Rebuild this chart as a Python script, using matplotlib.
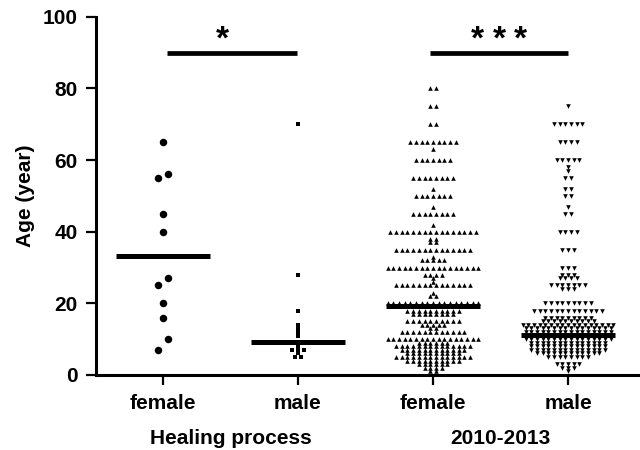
import numpy as np
import matplotlib.pyplot as plt

plt.rcParams['font.family'] = ['Liberation Sans', 'DejaVu Sans']
plt.rcParams['font.weight'] = 'bold'
plt.rcParams['axes.labelweight'] = 'bold'
plt.rcParams['font.size'] = 15

categories = ['female', 'male', 'female', 'male']
group_names = ['Healing process', '2010-2013']

heal_female = [65, 56, 55, 45, 40, 27, 25, 20, 16, 10, 7]
heal_male = [70, 28, 18, 14, 13, 12, 11, 9, 8, 7, 7, 7, 6, 5, 5]

# 2010-2013 cohorts: age (year) and how many patients sit on that row
f13_ages = [80, 75, 70, 65, 63, 60, 55, 52, 50, 47, 45, 42, 40, 38, 37, 35, 33, 32,
            30, 28, 27, 26, 25, 23, 22, 20, 18, 17, 15, 14, 13, 12, 10, 9, 8, 7,
            6, 5, 4, 3, 2, 1]
f13_counts = [2, 2, 2, 9, 1, 7, 8, 1, 7, 1, 8, 1, 16, 2, 2, 14, 1, 5,
              17, 4, 1, 1, 14, 1, 2, 17, 10, 8, 10, 5, 2, 12, 17, 6, 14, 12,
              10, 14, 10, 6, 4, 2]
m13_ages = [75, 70, 65, 60, 58, 57, 55, 52, 50, 47, 45, 40, 35, 30, 28, 27, 25, 24,
            20, 18, 16, 15, 14, 13, 12, 11, 10, 9, 8, 7, 6, 5, 3, 2, 1]
m13_counts = [1, 6, 4, 5, 1, 1, 2, 2, 2, 1, 2, 4, 3, 3, 3, 4, 7, 3,
              9, 13, 9, 10, 17, 16, 16, 16, 16, 14, 14, 14, 12, 8, 5, 3, 1]

means = [33.3, 9.2, 19.2, 11.2]
n_stars = [1, 3]


def swarm(values, step, tol):
    vals = np.sort(np.asarray(values, dtype=float))
    xs = np.zeros_like(vals)
    i = 0
    while i < len(vals):
        j = i
        while j + 1 < len(vals) and vals[j + 1] - vals[i] <= tol:
            j += 1
        n = j - i + 1
        xs[i:j + 1] = (np.arange(n) - (n - 1) / 2) * step
        i = j + 1
    return xs, vals


data = [heal_female, heal_male,
        np.repeat(f13_ages, f13_counts), np.repeat(m13_ages, m13_counts)]
styles = [dict(marker='o', ms=5.4, step=0.081, tol=3),
          dict(marker='s', ms=2.8, step=0.041, tol=0.5),
          dict(marker='^', ms=3.3, step=0.042, tol=0.5),
          dict(marker='v', ms=3.3, step=0.042, tol=0.5)]

fig = plt.figure(figsize=(6.4, 4.5), dpi=100)
ax = fig.add_axes([0.15, 0.1667, 0.85, 0.796])

for i, (vals, st) in enumerate(zip(data, styles)):
    dx, y = swarm(vals, st['step'], st['tol'])
    ax.plot(i + dx, y, ls='none', marker=st['marker'], ms=st['ms'],
            color='black', mew=0)
    ax.hlines(means[i], i - 0.345, i + 0.345, color='black', lw=3.6, zorder=3)

# significance bars with stars
for k, (x0, x1) in enumerate([(0.03, 0.99), (1.98, 3.0)]):
    ax.hlines(90, x0, x1, color='black', lw=3.4)
    xc = (x0 + x1) / 2 - (0.07 if n_stars[k] == 1 else 0.0)
    for s in range(n_stars[k]):
        ax.text(xc + (s - (n_stars[k] - 1) / 2) * 0.16, 89.2, '*',
                ha='center', va='bottom', fontsize=24)

ax.set_xlim(-0.496, 3.533)
ax.set_ylim(0, 100)
ax.set_yticks(range(0, 101, 20))
ax.set_xticks(range(4))
ax.set_xticklabels(categories)
ax.set_ylabel('Age (year)', labelpad=6)
for s in ['top', 'right']:
    ax.spines[s].set_visible(False)
for s in ['left', 'bottom']:
    ax.spines[s].set_linewidth(2.2)
ax.tick_params(width=1.6, length=7)
ax.tick_params(axis='x', pad=7)
ax.tick_params(axis='y', pad=6)

for k, name in enumerate(group_names):
    ax.text(0.5 + 2 * k, -0.178, name, ha='center', va='center',
            transform=ax.get_xaxis_transform())

fig.savefig('out.png', dpi=100)
